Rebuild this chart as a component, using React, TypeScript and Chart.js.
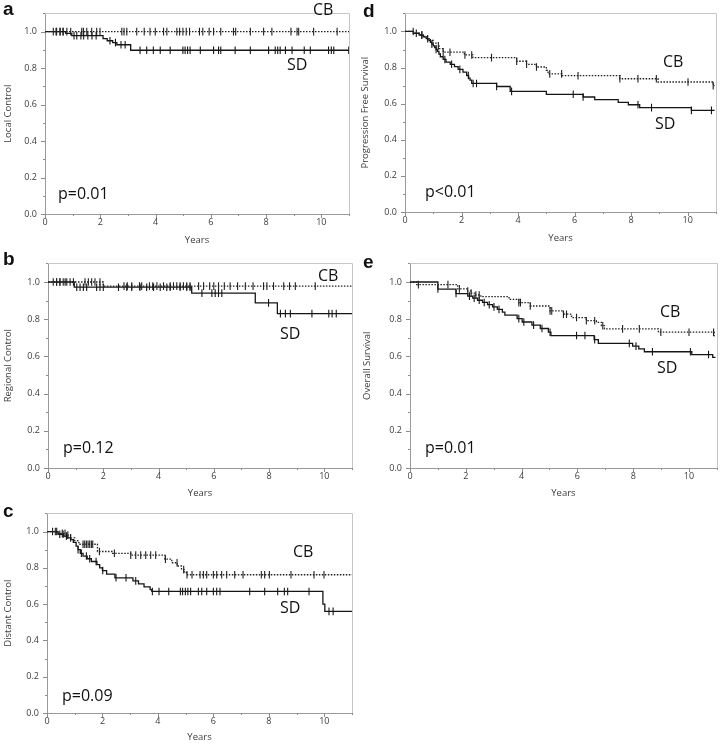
import React, { useEffect, useRef } from 'react';
import { Chart, registerables } from 'chart.js';

Chart.register(...registerables);

// ---------- Panel a : Local Control ----------
const A_SD_T = [0, 0.75, 0.97, 2.1, 2.25, 2.45, 2.6, 3.1, 11];
const A_SD_S = [1, 0.99, 0.978, 0.962, 0.95, 0.94, 0.928, 0.898, 0.898];
const A_SD_C = [0.4, 0.55, 0.65, 1.05, 1.15, 1.3, 1.4, 1.55, 1.7, 1.85, 2.35, 2.55, 2.75, 2.9, 3.44, 3.68, 3.92, 4.17, 4.53, 4.99, 5.07, 5.16, 5.25, 5.62, 6.1, 6.28, 6.36, 6.88, 7.43, 8.09, 8.33, 8.42, 8.51, 8.7, 8.94, 9.38, 9.6, 10.26, 10.36, 10.45, 10.99];
const A_CB_T = [0, 11];
const A_CB_S = [1, 1];
const A_CB_C = [0.3, 0.42, 0.54, 0.66, 0.79, 0.93, 1.33, 1.39, 1.51, 1.69, 1.87, 1.99, 2.78, 2.86, 2.96, 3.32, 3.59, 3.8, 3.99, 4.29, 4.41, 4.77, 4.87, 4.99, 5.11, 5.23, 5.59, 5.71, 5.94, 6.1, 6.36, 6.82, 6.9, 7.43, 7.91, 8.21, 8.9, 9.12, 9.18, 9.72, 10.57];

// ---------- Panel b : Regional Control ----------
const B_SD_T = [0, 0.95, 5.2, 7.5, 8.3, 11];
const B_SD_S = [1, 0.972, 0.94, 0.888, 0.83, 0.83];
const B_SD_C = [0.31, 0.43, 0.62, 1.04, 1.16, 1.28, 1.4, 1.76, 1.88, 2.0, 2.55, 2.85, 3.03, 3.33, 3.57, 3.82, 4.06, 4.3, 4.42, 4.78, 5.02, 5.14, 5.57, 5.93, 6.05, 6.17, 6.29, 7.98, 8.41, 8.59, 8.77, 9.55, 10.16, 10.28, 10.43];
const B_CB_T = [0, 2.0, 11];
const B_CB_S = [1, 0.978, 0.978];
const B_CB_C = [0.19, 0.31, 0.43, 0.55, 0.68, 0.8, 0.92, 1.34, 1.46, 1.58, 1.7, 1.88, 2.75, 2.87, 3.03, 3.31, 3.39, 3.67, 3.79, 3.94, 4.18, 4.42, 4.54, 4.66, 4.78, 4.9, 5.02, 5.14, 5.45, 5.63, 5.85, 6.0, 6.17, 6.38, 6.59, 6.86, 7.14, 7.42, 7.8, 7.92, 8.16, 8.53, 8.74, 8.95, 9.67];

// ---------- Panel c : Distant Control ----------
const C_SD_T = [0, 0.4, 0.6, 0.75, 0.85, 0.95, 1.05, 1.12, 1.2, 1.3, 1.45, 1.6, 1.8, 1.9, 2.0, 2.15, 2.45, 3.1, 3.3, 3.5, 3.72, 3.78, 9.95, 10.02, 11];
const C_SD_S = [1, 0.985, 0.975, 0.965, 0.955, 0.94, 0.92, 0.9, 0.88, 0.865, 0.85, 0.835, 0.818, 0.8, 0.785, 0.765, 0.745, 0.728, 0.712, 0.695, 0.68, 0.67, 0.6, 0.56, 0.56];
const C_SD_C = [0.35, 0.46, 0.58, 0.7, 1.12, 1.24, 1.42, 1.54, 1.77, 2.01, 2.49, 2.85, 3.2, 3.8, 4.04, 4.39, 4.81, 4.89, 4.99, 5.08, 5.18, 5.46, 5.58, 5.76, 6.0, 6.12, 6.24, 7.31, 7.85, 8.32, 8.56, 8.68, 9.45, 10.17, 10.32];
const C_CB_T = [0, 0.4, 0.7, 0.85, 1.0, 1.15, 1.82, 2.37, 3.02, 4.25, 4.5, 4.7, 4.85, 4.95, 5.03, 11];
const C_CB_S = [1, 0.99, 0.98, 0.965, 0.95, 0.93, 0.89, 0.88, 0.87, 0.848, 0.828, 0.81, 0.79, 0.778, 0.762, 0.762];
const C_CB_C = [0.2, 0.3, 0.55, 0.65, 0.75, 0.85, 1.3, 1.36, 1.42, 1.48, 1.54, 1.6, 1.65, 1.89, 2.43, 3.02, 3.2, 3.38, 3.56, 3.74, 3.92, 4.27, 4.69, 4.93, 5.05, 5.23, 5.52, 5.64, 5.76, 6.0, 6.12, 6.3, 6.48, 6.77, 7.07, 7.73, 7.85, 8.02, 8.8, 9.63, 9.99];

// ---------- Panel d : Progression Free Survival ----------
const D_SD_T = [0, 0.3, 0.5, 0.65, 0.75, 0.85, 0.9, 0.95, 1.0, 1.05, 1.1, 1.15, 1.2, 1.25, 1.35, 1.45, 1.6, 1.75, 1.88, 2.05, 2.18, 2.25, 2.3, 2.36, 3.24, 3.72, 5.0, 6.3, 6.71, 7.54, 7.9, 8.3, 10.13, 10.95];
const D_SD_S = [1, 0.99, 0.98, 0.97, 0.96, 0.95, 0.94, 0.93, 0.92, 0.91, 0.9, 0.89, 0.875, 0.86, 0.845, 0.83, 0.818, 0.805, 0.79, 0.775, 0.756, 0.742, 0.73, 0.712, 0.695, 0.668, 0.652, 0.637, 0.622, 0.607, 0.594, 0.578, 0.563, 0.563];
const D_SD_C = [0.4, 0.6, 0.8, 0.95, 1.1, 1.41, 1.65, 1.94, 2.24, 2.41, 2.53, 3.24, 3.77, 5.95, 6.3, 8.24, 8.72, 10.13, 10.84];
const D_CB_T = [0, 0.3, 0.55, 0.7, 0.8, 0.9, 1.0, 1.1, 1.2, 1.35, 2.1, 2.4, 3.95, 4.3, 4.65, 5.0, 5.06, 5.55, 7.6, 8.95, 10.9, 10.95];
const D_CB_S = [1, 0.99, 0.98, 0.97, 0.96, 0.95, 0.935, 0.92, 0.905, 0.885, 0.87, 0.855, 0.835, 0.818, 0.803, 0.785, 0.765, 0.755, 0.738, 0.72, 0.7, 0.7];
const D_CB_C = [0.29, 0.59, 1.18, 1.35, 1.59, 2.12, 2.36, 3.06, 3.95, 4.3, 4.65, 5.12, 5.54, 6.12, 7.6, 8.24, 8.89, 10.01, 10.9];

// ---------- Panel e : Overall Survival ----------
const E_SD_T = [0, 1.0, 1.65, 2.07, 2.25, 2.42, 2.6, 2.78, 2.96, 3.13, 3.31, 3.4, 3.84, 4.02, 4.37, 4.67, 4.96, 5.05, 6.6, 6.75, 7.98, 8.2, 8.4, 10.1, 10.85, 10.95];
const E_SD_S = [1, 0.962, 0.938, 0.924, 0.913, 0.902, 0.89, 0.878, 0.866, 0.853, 0.838, 0.822, 0.803, 0.785, 0.768, 0.75, 0.73, 0.712, 0.69, 0.67, 0.655, 0.64, 0.625, 0.61, 0.595, 0.595];
const E_SD_C = [1.0, 1.65, 2.13, 2.3, 2.48, 2.66, 2.84, 3.01, 3.19, 3.9, 4.08, 4.43, 4.73, 5.02, 5.97, 6.27, 6.62, 7.86, 8.1, 8.69, 10.05, 10.7];
const E_CB_T = [0, 0.24, 1.71, 2.07, 2.19, 2.36, 2.54, 3.55, 3.9, 4.31, 5.02, 5.5, 5.79, 6.32, 6.68, 6.86, 6.97, 8.9, 10.9, 10.95];
const E_CB_S = [1, 0.986, 0.963, 0.951, 0.94, 0.93, 0.921, 0.907, 0.889, 0.871, 0.845, 0.827, 0.809, 0.792, 0.783, 0.765, 0.748, 0.73, 0.71, 0.71];
const E_CB_C = [0.3, 1.36, 1.77, 2.07, 2.19, 2.36, 2.48, 3.9, 3.96, 4.31, 5.02, 5.08, 5.5, 5.61, 5.97, 6.32, 6.62, 6.91, 7.62, 8.22, 8.99, 10.0, 10.88];

// axis tick values
const X_TICK_LABELS = [0, 2, 4, 6, 8, 10];
const Y_TICK_LABELS = ['0.0', '0.2', '0.4', '0.6', '0.8', '1.0'];

type Txt = { text: string; x: number; y: number; font: string };
type PanelDef = {
  yTitle: string;
  sdT: number[]; sdS: number[]; sdC: number[];
  cbT: number[]; cbS: number[]; cbC: number[];
  canvas: [number, number, number, number];
  area: [number, number, number, number];
  texts: Txt[];
};

const LETTER = "bold 19px 'Liberation Sans', Arial, sans-serif";
const ANNOT = "16px 'Open Sans', sans-serif";

const PANELS: PanelDef[] = [
  {
    yTitle: 'Local Control',
    sdT: A_SD_T, sdS: A_SD_S, sdC: A_SD_C, cbT: A_CB_T, cbS: A_CB_S, cbC: A_CB_C,
    canvas: [0, 0, 360, 250], area: [45, 349, 3, 214],
    texts: [
      { text: 'a', x: 3, y: 15, font: LETTER },
      { text: 'CB', x: 313, y: 15, font: ANNOT },
      { text: 'SD', x: 287, y: 70, font: ANNOT },
      { text: 'p=0.01', x: 58, y: 199, font: ANNOT },
    ],
  },
  {
    yTitle: 'Regional Control',
    sdT: B_SD_T, sdS: B_SD_S, sdC: B_SD_C, cbT: B_CB_T, cbS: B_CB_S, cbC: B_CB_C,
    canvas: [0, 250, 360, 253], area: [48, 352, 262.3, 468],
    texts: [
      { text: 'b', x: 3, y: 265, font: LETTER },
      { text: 'CB', x: 318, y: 281, font: ANNOT },
      { text: 'SD', x: 280, y: 339, font: ANNOT },
      { text: 'p=0.12', x: 63, y: 453, font: ANNOT },
    ],
  },
  {
    yTitle: 'Distant Control',
    sdT: C_SD_T, sdS: C_SD_S, sdC: C_SD_C, cbT: C_CB_T, cbS: C_CB_S, cbC: C_CB_C,
    canvas: [0, 500, 360, 247], area: [47, 352, 507.3, 713],
    texts: [
      { text: 'c', x: 3, y: 517, font: LETTER },
      { text: 'CB', x: 293, y: 557, font: ANNOT },
      { text: 'SD', x: 280, y: 613, font: ANNOT },
      { text: 'p=0.09', x: 62, y: 701, font: ANNOT },
    ],
  },
  {
    yTitle: 'Progression Free Survival',
    sdT: D_SD_T, sdS: D_SD_S, sdC: D_SD_C, cbT: D_CB_T, cbS: D_CB_S, cbC: D_CB_C,
    canvas: [357, 0, 365, 248], area: [405, 716, 3, 212],
    texts: [
      { text: 'd', x: 363, y: 17, font: LETTER },
      { text: 'CB', x: 663, y: 67, font: ANNOT },
      { text: 'SD', x: 655, y: 129, font: ANNOT },
      { text: 'p<0.01', x: 425, y: 197, font: ANNOT },
    ],
  },
  {
    yTitle: 'Overall Survival',
    sdT: E_SD_T, sdS: E_SD_S, sdC: E_SD_C, cbT: E_CB_T, cbS: E_CB_S, cbC: E_CB_C,
    canvas: [359, 250, 363, 253], area: [410, 719, 260, 468],
    texts: [
      { text: 'e', x: 363, y: 268, font: LETTER },
      { text: 'CB', x: 660, y: 317, font: ANNOT },
      { text: 'SD', x: 657, y: 373, font: ANNOT },
      { text: 'p=0.01', x: 425, y: 453, font: ANNOT },
    ],
  },
];

function survivalAt(T: number[], S: number[], t: number) {
  let v = S[0];
  for (let i = 0; i < T.length; i++) if (T[i] <= t + 1e-9) v = S[i];
  return v;
}

const SD_COLOR = '#161616';
const CB_COLOR = '#202020';
const TICK_FONT = { family: "'Open Sans', sans-serif", size: 9 };
const TITLE_FONT = { family: "'Open Sans', sans-serif", size: 9.5 };

function KMPanel({ p }: { p: PanelDef }) {
  const ref = useRef<HTMLCanvasElement | null>(null);
  const [cl, ct, cw, ch] = p.canvas;
  useEffect(() => {
    const [L, R, T, B] = p.area;
    const yW = L - cl;
    const padTop = T - ct;
    const xH = ch - (B - ct);
    const padRight = cl + cw - R;

    const decor = {
      id: 'decor',
      afterDraw(chart: any) {
        const { ctx, chartArea: ca, scales } = chart;
        const x = scales.x, y = scales.y;
        ctx.save();
        ctx.lineWidth = 1;
        ctx.strokeStyle = '#c6c6c6';
        ctx.beginPath();
        ctx.moveTo(ca.left, Math.round(ca.top) + 0.5);
        ctx.lineTo(Math.round(ca.right) + 0.5, Math.round(ca.top) + 0.5);
        ctx.lineTo(Math.round(ca.right) + 0.5, ca.bottom);
        ctx.stroke();
        ctx.strokeStyle = '#8c8c8c';
        ctx.beginPath();
        for (let v = 0; v <= 11; v++) {
          const px = Math.round(x.getPixelForValue(v)) + 0.5;
          const len = v % 2 === 0 ? 4 : 2;
          ctx.moveTo(px, ca.bottom);
          ctx.lineTo(px, ca.bottom + len);
        }
        for (let k = 0; k <= 11; k++) {
          const py = Math.round(y.getPixelForValue(k / 10)) + 0.5;
          const len = k % 2 === 0 ? 4 : 2;
          ctx.moveTo(ca.left - len, py);
          ctx.lineTo(ca.left, py);
        }
        ctx.stroke();
        ctx.fillStyle = '#111';
        ctx.textBaseline = 'alphabetic';
        ctx.textAlign = 'left';
        for (const t of p.texts) {
          ctx.font = t.font;
          ctx.fillText(t.text, t.x - cl, t.y - ct);
        }
        ctx.restore();
      },
    };

    const stepData = (Ts: number[], Ss: number[]) => Ts.map((t, i) => ({ x: t, y: Ss[i] }));
    const censorData = (Cs: number[], Ts: number[], Ss: number[]) => Cs.map((t) => ({ x: t, y: survivalAt(Ts, Ss, t) }));

    const chart = new Chart(ref.current as HTMLCanvasElement, {
      type: 'scatter',
      data: {
        datasets: [
          {
            data: stepData(p.cbT, p.cbS), showLine: true, stepped: true,
            borderColor: CB_COLOR, borderWidth: 1.3, borderDash: [1.5, 1.5], pointRadius: 0, clip: 6,
          } as any,
          {
            data: censorData(p.cbC, p.cbT, p.cbS), showLine: false,
            pointStyle: 'line', pointRotation: 90, pointRadius: 3.8, pointBorderWidth: 1.1,
            pointBorderColor: CB_COLOR, borderColor: CB_COLOR, clip: 6,
          } as any,
          {
            data: stepData(p.sdT, p.sdS), showLine: true, stepped: true,
            borderColor: SD_COLOR, borderWidth: 1.3, pointRadius: 0, clip: 6,
          } as any,
          {
            data: censorData(p.sdC, p.sdT, p.sdS), showLine: false,
            pointStyle: 'line', pointRotation: 90, pointRadius: 3.8, pointBorderWidth: 1.1,
            pointBorderColor: SD_COLOR, borderColor: SD_COLOR, clip: 6,
          } as any,
        ],
      },
      options: {
        responsive: false,
        animation: false,
        devicePixelRatio: 1,
        layout: { padding: { top: padTop, right: padRight, left: 0, bottom: 0 } },
        plugins: { legend: { display: false }, tooltip: { enabled: false } },
        scales: {
          x: {
            type: 'linear', min: 0, max: 11,
            afterFit: (s: any) => { s.height = xH; },
            ticks: {
              stepSize: 1, autoSkip: false, maxRotation: 0, padding: 3,
              color: '#3c3c3c', font: TICK_FONT,
              callback: (v: any) => (X_TICK_LABELS.includes(Math.round(Number(v))) && Math.abs(Number(v) - Math.round(Number(v))) < 1e-6 ? String(Math.round(Number(v))) : null),
            },
            grid: { display: true, drawOnChartArea: false, drawTicks: false },
            border: { display: true, color: '#9a9a9a', width: 1 },
            title: { display: true, text: 'Years', color: '#3c3c3c', font: TITLE_FONT, padding: { top: 2, bottom: 4 } },
          },
          y: {
            type: 'linear', min: 0, max: 1.1,
            afterFit: (s: any) => { s.width = yW; },
            ticks: {
              stepSize: 0.1, autoSkip: false, padding: 8,
              color: '#3c3c3c', font: TICK_FONT,
              callback: (v: any) => {
                const k = Math.round(Number(v) * 10);
                return k % 2 === 0 ? Y_TICK_LABELS[k / 2] ?? null : null;
              },
            },
            grid: { display: true, drawOnChartArea: false, drawTicks: false },
            border: { display: true, color: '#9a9a9a', width: 1 },
            title: { display: true, text: p.yTitle, color: '#3c3c3c', font: TITLE_FONT, padding: { top: 3, bottom: 2 } },
          },
        },
      } as any,
      plugins: [decor],
    });
    return () => chart.destroy();
  }, []);
  return (
    <canvas
      ref={ref}
      width={cw}
      height={ch}
      style={{ position: 'absolute', left: cl, top: ct, width: cw, height: ch }}
    />
  );
}

export default function App() {
  return (
    <div style={{ position: 'absolute', left: 0, top: 0, width: 722, height: 745, overflow: 'hidden', background: '#fff' }}>
      {PANELS.map((p, i) => (
        <KMPanel key={i} p={p} />
      ))}
    </div>
  );
}
